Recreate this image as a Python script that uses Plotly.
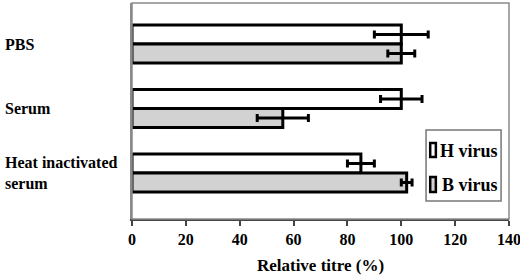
import plotly.graph_objects as go

categories = ["PBS", "Serum", "Heat inactivated<br>serum"]
series_names = ["H virus", "B virus"]
h_values = [100, 100, 85]
h_errors = [10, 7.7, 5]
b_values = [100, 56, 102]
b_errors = [5, 9.5, 2]
x_ticks = [0, 20, 40, 60, 80, 100, 120, 140]

FONT = "Liberation Serif, Times New Roman, serif"
fills = ["white", "#d2d2d2"]

fig = go.Figure()
for name, vals, errs, fill in [(series_names[0], h_values, h_errors, fills[0]),
                               (series_names[1], b_values, b_errors, fills[1])]:
    fig.add_trace(go.Bar(
        name=name, y=categories, x=vals, orientation="h", showlegend=False,
        marker=dict(color=fill, line=dict(color="black", width=3)),
        error_x=dict(type="data", array=errs, color="black", thickness=3, width=4),
    ))

for c in categories:
    fig.add_annotation(text="<b>%s</b>" % c, xref="paper", yref="y", x=-0.342, y=c,
                       xanchor="left", yanchor="middle", showarrow=False, align="left",
                       font=dict(family=FONT, size=16, color="black"))

# plot border
fig.add_shape(type="rect", xref="paper", yref="paper", x0=0, y0=0, x1=1, y1=1,
              line=dict(color="#8a8a8a", width=1.5), layer="above")

# manual legend
fig.add_shape(type="rect", xref="paper", yref="paper", x0=0.780, y0=0.083, x1=0.979, y1=0.412,
              line=dict(color="#777", width=1.5), fillcolor="white", layer="above")
leg_rows = [(0.287, 0.352, 0.315, 0.812), (0.125, 0.194, 0.157, 0.817)]
for (y0, y1, yc, tx), name, fill in zip(leg_rows, series_names, fills):
    fig.add_shape(type="rect", xref="paper", yref="paper", x0=0.791, x1=0.806, y0=y0, y1=y1,
                  line=dict(color="black", width=2.5), fillcolor=fill, layer="above")
    fig.add_annotation(text="<b>%s</b>" % name, xref="paper", yref="paper", x=tx, y=yc,
                       xanchor="left", yanchor="middle", showarrow=False,
                       font=dict(family=FONT, size=18, color="black"))

fig.update_layout(
    width=520, height=280,
    margin=dict(l=132, r=11, t=3, b=61, autoexpand=False),
    plot_bgcolor="white", paper_bgcolor="white",
    barmode="group", bargap=0.41, bargroupgap=0,
    font=dict(family=FONT, color="black"),
    xaxis=dict(range=[0, 140], tickvals=x_ticks, ticks="outside", ticklen=5, tickwidth=1.5,
               tickcolor="#444", showline=True, linecolor="#444", linewidth=1.5,
               showgrid=False, zeroline=False, ticklabeloverflow="allow", automargin=False,
               tickfont=dict(family=FONT, size=16, color="black", weight="bold"),
               title=dict(text="<b>Relative titre (%)</b>", standoff=12,
                          font=dict(family=FONT, size=17, color="black"))),
    yaxis=dict(type="category", range=[2.713, -0.636], showticklabels=False,
               showline=True, linecolor="#8a8a8a", linewidth=1.5, showgrid=False,
               zeroline=False, ticks="", automargin=False),
    showlegend=False,
)
fig.write_html("out.html", config={"displayModeBar": False},
               post_script="document.body.style.margin='0';")
